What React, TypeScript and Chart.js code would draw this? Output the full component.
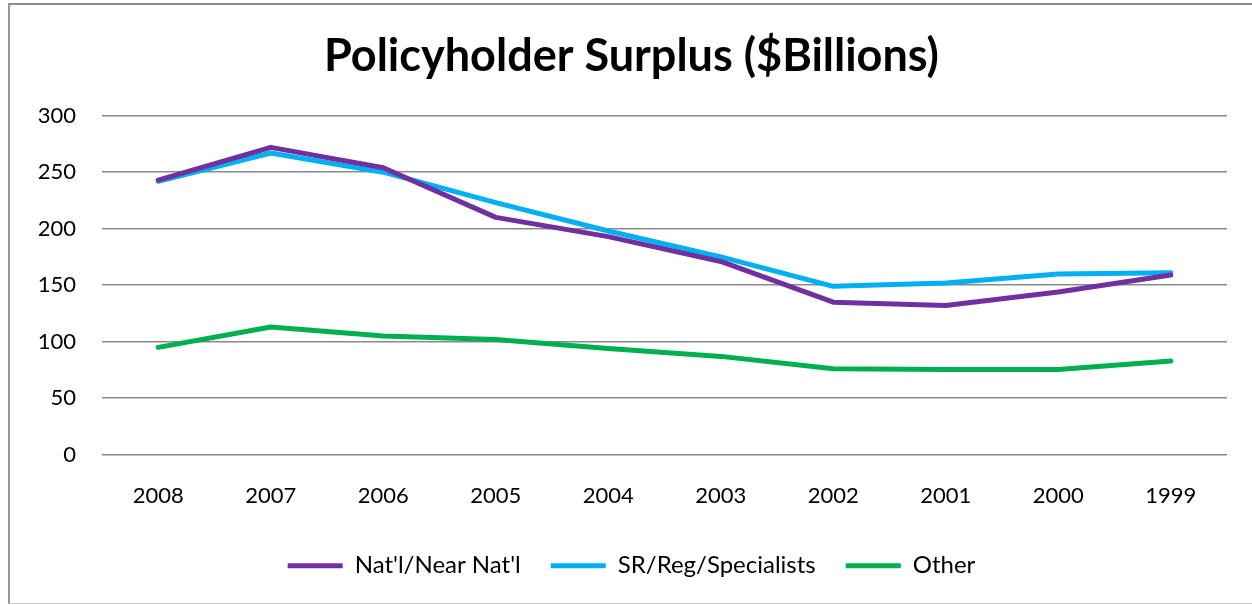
import React, { useEffect, useRef } from "react";
import { Chart, registerables } from "chart.js";

Chart.register(...registerables);

const years = ["2008", "2007", "2006", "2005", "2004", "2003", "2002", "2001", "2000", "1999"];
const natlNearNatl = [243, 272, 254, 210, 193, 171, 135, 132, 144, 159];
const srRegSpecialists = [242, 267, 250, 223, 198, 175, 149, 152, 160, 161];
const other = [95, 113, 105, 102, 94, 87, 76, 75.5, 75.5, 83];
const yTicks = [0, 50, 100, 150, 200, 250, 300];

const FONT = "Lato, 'Open Sans', sans-serif";

export default function App() {
  const ref = useRef<HTMLCanvasElement | null>(null);

  useEffect(() => {
    if (!ref.current) return;
    const mk = (label: string, data: number[], color: string) => ({
      label,
      data,
      borderColor: color,
      backgroundColor: color,
      borderWidth: 5,
      pointRadius: 0,
      pointHoverRadius: 0,
      tension: 0,
      borderCapStyle: "round" as const,
      borderJoinStyle: "round" as const,
      fill: false,
    });
    const chart = new Chart(ref.current, {
      type: "line",
      data: {
        labels: years,
        datasets: [
          mk("Nat'l/Near Nat'l", natlNearNatl, "#7030A0"),
          mk("SR/Reg/Specialists", srRegSpecialists, "#00B0F0"),
          mk("Other", other, "#00B050"),
        ],
      },
      options: {
        responsive: false,
        animation: false,
        layout: { padding: { left: 26, right: 26, top: 0, bottom: 15.3 } },
        plugins: {
          title: {
            display: true,
            text: "Policyholder Surplus ($Billions)",
            color: "#000",
            font: { family: FONT, size: 45, weight: "bold", lineHeight: 1.2 },
            padding: { top: 24, bottom: 32.7 },
          },
          legend: {
            display: true,
            position: "bottom",
            labels: {
              usePointStyle: true,
              pointStyle: "line",
              pointStyleWidth: 55,
              color: "#000",
              font: { family: FONT, size: 24 },
              padding: 30,
            },
          },
          tooltip: { enabled: false },
        },
        scales: {
          x: {
            offset: true,
            grid: { display: false, drawTicks: false },
            border: { display: false },
            ticks: { color: "#000", font: { family: FONT, size: 22 }, padding: 28, maxRotation: 0 },
            afterFit: (s: any) => {
              s.height = 69;
            },
          },
          y: {
            min: 0,
            max: 300,
            afterBuildTicks: (s: any) => {
              s.ticks = yTicks.map((v) => ({ value: v }));
            },
            grid: { color: "#8a8a8a", lineWidth: 1.5, drawTicks: false },
            border: { display: false },
            ticks: { color: "#000", font: { family: FONT, size: 22 }, padding: 26 },
            afterFit: (s: any) => {
              s.width = 66;
            },
          },
        },
      },
    });
    return () => chart.destroy();
  }, []);

  return (
    <div
      style={{
        position: "fixed",
        left: 8,
        top: 3,
        width: 1245,
        height: 598,
        background: "#fff",
        borderTop: "2px solid #8c8c8c",
        borderLeft: "2px solid #999",
        borderBottom: "1px solid #d0d0d0",
      }}
    >
      <canvas ref={ref} width={1243} height={598} style={{ display: "block" }} />
    </div>
  );
}
